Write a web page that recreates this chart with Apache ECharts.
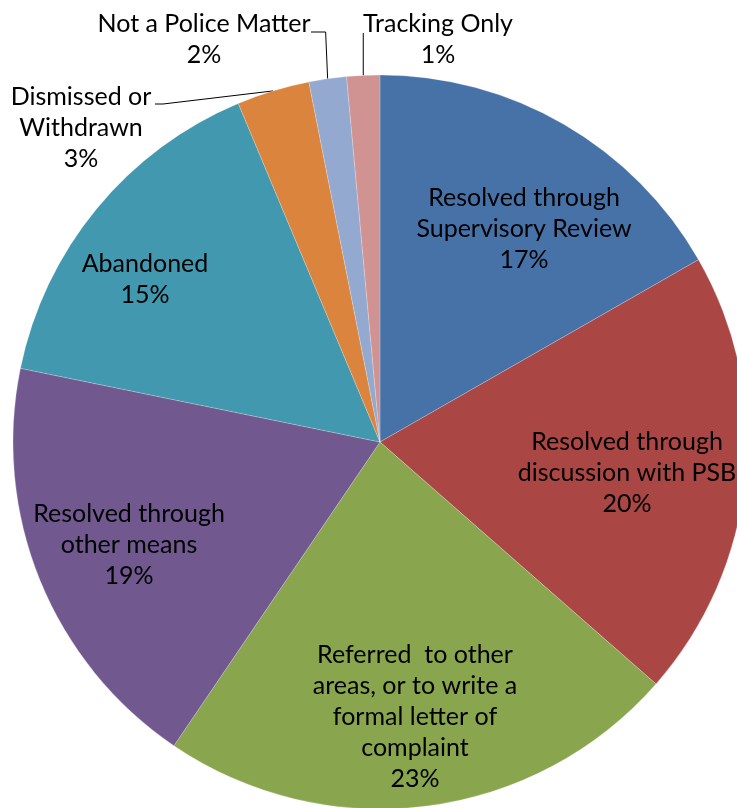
<!DOCTYPE html>
<html>
<head>
<meta charset="utf-8">
<script src="https://cdn.jsdelivr.net/npm/echarts@6/dist/echarts.min.js"></script>
<style>
  html, body { margin: 0; padding: 0; background: #fff; }
  #chart { width: 737px; height: 808px; }
</style>
</head>
<body>
<div id="chart"></div>
<script>
// Complaint outcomes, share of cases (%), clockwise from 12 o'clock
const categories = [
  'Resolved through\nSupervisory Review',
  'Resolved through\ndiscussion with PSB',
  'Referred  to other\nareas, or to write a\nformal letter of\ncomplaint',
  'Resolved through\nother means',
  'Abandoned',
  'Dismissed or\nWithdrawn',
  'Not a Police Matter',
  'Tracking Only'
];
const shares = [16.7, 19.7, 23.0, 18.7, 15.45, 3.2, 1.65, 1.45];
const sliceColors = ['#4672A8', '#AA4643', '#89A54E', '#71588F', '#4198AF', '#DB843D', '#93A9CF', '#D19392'];

// Pie geometry (px)
const pieCenter = [380, 442];
const pieRadius = 367;

// Where each label block is centred (px)
const labelSpots = [
  [524, 229], [627, 473], [415, 717], [129, 545],
  [145, 279], [81, 128], [204, 39], [438, 39]
];
// Leader-line bend/end points for the labels drawn outside the pie
const calloutBends = {
  5: function (edge) { return [[163, 104], [155, 104]]; },
  6: function (edge) { return [[edge[0] - 2, 32], [311, 32]]; },
  7: function (edge) { return [[edge[0], 33], [edge[0], 33]]; }
};

// Point on the rim at the middle of a slice
const total = shares.reduce((a, b) => a + b, 0);
function rimPoint(i) {
  let before = 0;
  for (let k = 0; k < i; k++) before += shares[k];
  const ang = (before + shares[i] / 2) / total * 2 * Math.PI;
  return [pieCenter[0] + pieRadius * Math.sin(ang), pieCenter[1] - pieRadius * Math.cos(ang)];
}

const chart = echarts.init(document.getElementById('chart'), null, { renderer: 'canvas' });

chart.setOption({
  animation: false,
  color: sliceColors,
  series: [{
    type: 'pie',
    center: pieCenter,
    radius: pieRadius,
    startAngle: 90,
    clockwise: true,
    avoidLabelOverlap: false,
    itemStyle: { borderColor: 'rgba(255,255,255,0.35)', borderWidth: 0.6 },
    label: {
      show: true,
      position: 'outside',
      fontFamily: 'Lato',
      fontSize: 25,
      lineHeight: 31,
      color: '#000',
      formatter: function (p) { return p.name + '\n' + Math.round(p.percent) + '%'; }
    },
    labelLine: { show: true, lineStyle: { color: '#000', width: 1 } },
    labelLayout: function (p) {
      const i = p.dataIndex;
      const spot = labelSpots[i];
      const out = { x: spot[0], y: spot[1], align: 'center', verticalAlign: 'middle' };
      if (calloutBends[i]) {
        const edge = rimPoint(i);
        out.labelLinePoints = [edge].concat(calloutBends[i](edge));
      }
      return out;
    },
    data: categories.map(function (name, i) {
      const item = { name: name, value: shares[i] };
      if (!calloutBends[i]) {
        item.label = { position: 'inside' };
        item.labelLine = { show: false };
      }
      return item;
    })
  }]
});
</script>
</body>
</html>
